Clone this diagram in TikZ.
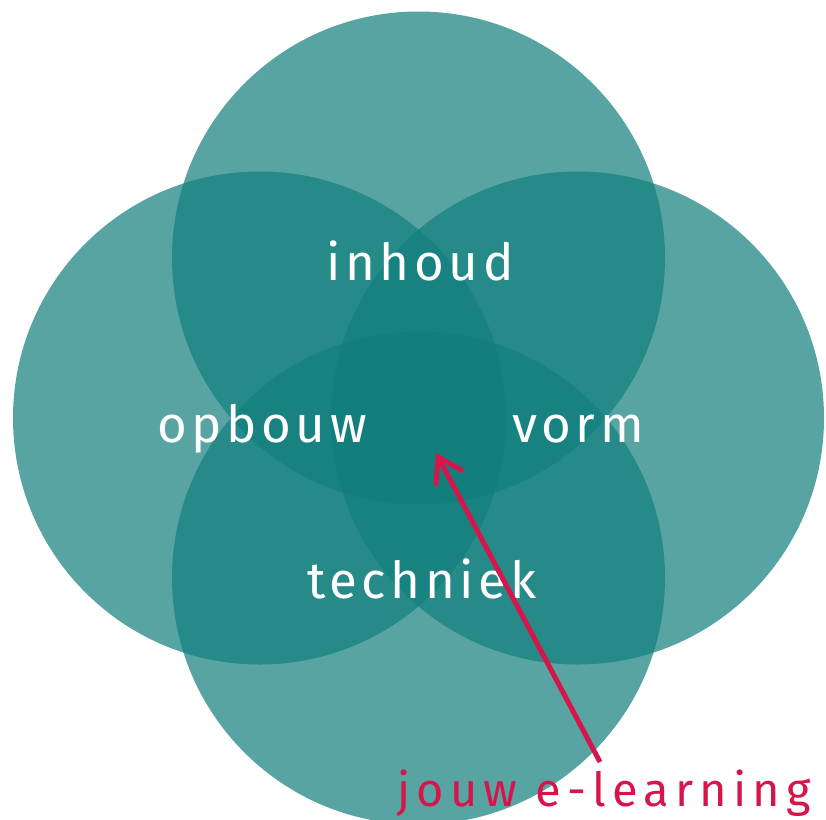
\documentclass[tikz,border=0pt]{standalone}
\usepackage{fontspec}
\setmainfont{Fira Sans}
\newfontfamily\labelfont[LetterSpace=9]{Fira Sans}
\newfontfamily\bottomfont[LetterSpace=13]{Fira Sans}
\usetikzlibrary{arrows.meta}
\definecolor{tealbase}{RGB}{16,126,124}
\definecolor{crimson}{RGB}{214,22,74}
\tikzset{
  venn/.style={circle, inner sep=0pt, minimum size=493pt, draw=none, fill=tealbase, fill opacity=0.7},
  lbl/.style={text=white, font=\labelfont\fontsize{51}{51}\selectfont, anchor=base, inner sep=0pt},
  pointer/.style={crimson, line width=5pt, -{Straight Barb[length=24pt, width=31pt]}}
}
\begin{document}
\begin{tikzpicture}[x=1pt, y=-1pt]
\useasboundingbox (0,0) rectangle (826,819);
\clip (0,0) rectangle (826,819);
\node[venn] (ctop) at (418.5,258) {};
\node[venn] (cleft) at (259.5,418) {};
\node[venn] (cright) at (577.5,418) {};
\node[venn] (cbottom) at (418.5,578) {};
\node[lbl] (inhoud) at (420,280) {inhoud};
\node[lbl] (opbouw) at (262,442) {opbouw};
\node[lbl] (vorm) at (578,442) {vorm};
\node[lbl] (techniek) at (422,598) {techniek};
\node[text=crimson, font=\bottomfont\fontsize{47}{47}\selectfont, anchor=base, inner sep=0pt] (jouw) at (604,806) {jouw e-learning};
\coordinate (tail) at (600,762);
\coordinate (tip) at (436,453);
\draw[pointer] (tail) -- (tip);
\end{tikzpicture}
\end{document}
